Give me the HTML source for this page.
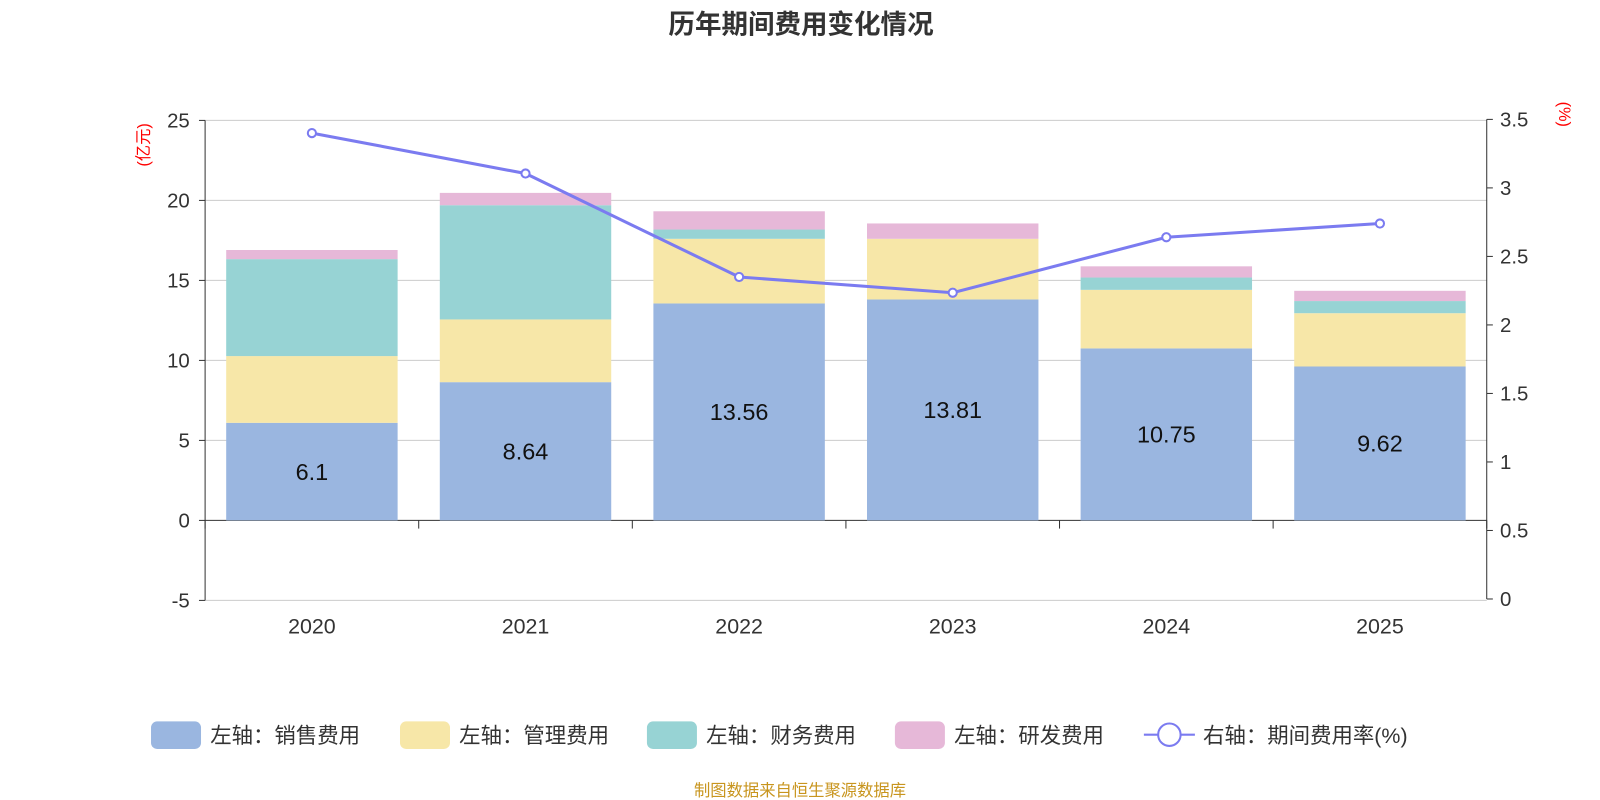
<!DOCTYPE html>
<html><head><meta charset="utf-8"><style>
body{margin:0;background:#fff;font-family:"Liberation Sans","Noto Sans CJK SC",sans-serif}
svg{display:block}
</style></head><body>
<svg id="chart" width="1600" height="800" viewBox="0 0 1568 784" xmlns="http://www.w3.org/2000/svg" font-family="Liberation Sans, Noto Sans CJK SC, sans-serif"></svg>
<script>
const categories=["2020","2021","2022","2023","2024","2025"];
const sales=[6.1,8.64,13.56,13.81,10.75,9.62];
const admin=[4.17,3.92,4.04,3.79,3.66,3.33];
const finance=[6.06,7.14,0.58,0,0.77,0.76];
const rnd=[0.57,0.77,1.14,0.96,0.7,0.64];
const rate=[3.40,3.105,2.35,2.235,2.64,2.74];
const leftTicks=[-5,0,5,10,15,20,25];
const rightTicks=[0,0.5,1,1.5,2,2.5,3,3.5];
const NS="http://www.w3.org/2000/svg";
const svg=document.getElementById('chart');
function mk(t,a,txt){const e=document.createElementNS(NS,t);for(const k in a)e.setAttribute(k,a[k]);if(txt!=null)e.textContent=txt;svg.appendChild(e);return e;}
const x0=201,x1=1457,bw=(x1-x0)/categories.length;
const yL=v=>510-v*15.68;
const yR=v=>587-v*(470/3.5);
const xc=i=>x0+bw*(i+0.5);
let t=mk('text',{x:785,y:33,'text-anchor':'middle','font-size':26,'font-weight':'bold',fill:'#333'},'历年期间费用变化情况');

leftTicks.forEach(v=>{
 if(v!==0){const g=mk('line',{x1:x0,x2:x1,y1:yL(v),y2:yL(v),stroke:'#ccc','stroke-width':1});
 }
 const l=mk('text',{x:186,y:yL(v)+7,'text-anchor':'end','font-size':20,fill:'#333'},String(v));
 
 const tk=mk('line',{x1:195,x2:x0,y1:yL(v),y2:yL(v),stroke:'#333'});
 
});
rightTicks.forEach(v=>{
 const l=mk('text',{x:1470,y:yR(v)+7,'font-size':20,fill:'#333'},String(v));
 
 const tk=mk('line',{x1:1457,x2:1463,y1:yR(v),y2:yR(v),stroke:'#333'});
 
});
let a=mk('line',{x1:x0,x2:x0,y1:yL(25),y2:yL(-5),stroke:'#333'});
a=mk('line',{x1:x1,x2:x1,y1:yR(3.5),y2:yR(0),stroke:'#333'});
a=mk('line',{x1:x0,x2:x1,y1:yL(0),y2:yL(0),stroke:'#333'});
for(let i=0;i<=categories.length;i++){const tk=mk('line',{x1:x0+bw*i,x2:x0+bw*i,y1:510,y2:518,stroke:'#333'});}
t=mk('text',{x:0,y:0,'font-size':16,fill:'red',transform:'translate(146,142) rotate(-90)','text-anchor':'middle'},'(亿元)');
t=mk('text',{x:0,y:0,'font-size':16,fill:'red',transform:'translate(1528,112) rotate(90)','text-anchor':'middle'},'(%)');
const series=[[sales,'#9ab6e0','sales'],[admin,'#f7e7a8','admin'],[finance,'#97d3d4','finance'],[rnd,'#e6b8d8','rnd']];
categories.forEach((c,i)=>{
 let base=0;const w=168;
 series.forEach(([arr,col,nm])=>{
  const v=arr[i];const r=mk('rect',{x:xc(i)-w/2,y:yL(base+v),width:w,height:Math.max(0,yL(base)-yL(base+v)),fill:col});
  base+=v;
 });
 const l=mk('text',{x:xc(i),y:yL(sales[i]/2)+8,'text-anchor':'middle','font-size':23,fill:'#111'},String(sales[i]));
 
 const xl=mk('text',{x:xc(i),y:621,'text-anchor':'middle','font-size':21,fill:'#333'},c);
 
});
const pl=mk('polyline',{points:rate.map((v,i)=>xc(i)+','+yR(v)).join(' '),fill:'none',stroke:'#7b7bf0','stroke-width':3});

rate.forEach((v,i)=>{const p=mk('circle',{cx:xc(i),cy:yR(v),r:4,fill:'#fff',stroke:'#7b7bf0','stroke-width':2});});
const leg=[['#9ab6e0','左轴：销售费用',148],['#f7e7a8','左轴：管理费用',392],['#97d3d4','左轴：财务费用',634],['#e6b8d8','左轴：研发费用',877]];
leg.forEach(([c,txt,x])=>{
 const r=mk('rect',{x:x,y:707,width:49,height:27,rx:6,fill:c});
 const l=mk('text',{x:x+58,y:728,'font-size':21,fill:'#333'},txt);
});
let ll=mk('line',{x1:1121,x2:1171,y1:720,y2:720,stroke:'#7b7bf0','stroke-width':2});
ll=mk('circle',{cx:1146,cy:720,r:11,fill:'#fff',stroke:'#7b7bf0','stroke-width':2});
t=mk('text',{x:1179,y:728,'font-size':21,fill:'#333'},'右轴：期间费用率(%)');
t=mk('text',{x:784,y:780,'text-anchor':'middle','font-size':16,fill:'#c8951e'},'制图数据来自恒生聚源数据库');
</script>
</body></html>
